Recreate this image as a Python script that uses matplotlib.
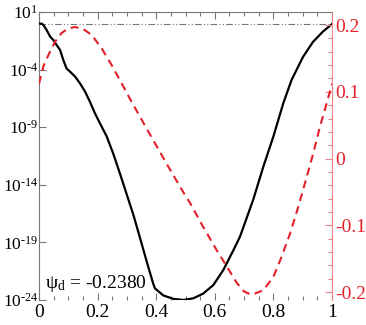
import numpy as np
import matplotlib
matplotlib.use("Agg")
import matplotlib.pyplot as plt
from matplotlib.ticker import MultipleLocator, FixedLocator, FuncFormatter

plt.rcParams['font.family'] = ['Liberation Serif', 'DejaVu Serif']
plt.rcParams['mathtext.fontset'] = 'custom'
plt.rcParams['mathtext.rm'] = 'Liberation Serif'
plt.rcParams['mathtext.it'] = 'Liberation Serif:italic'

# black curve: x and log10(value), left log axis
x_blk = [0.0, 0.01, 0.015, 0.026, 0.038, 0.049, 0.060, 0.072, 0.083, 0.094,
         0.106, 0.123, 0.14, 0.157, 0.174, 0.191, 0.208, 0.231, 0.253, 0.276,
         0.299, 0.322, 0.339, 0.367, 0.39, 0.396, 0.424, 0.458, 0.493, 0.527,
         0.56, 0.595, 0.629, 0.663, 0.686, 0.731, 0.766, 0.8, 0.834, 0.862,
         0.901, 0.935, 0.969, 1.0]
log_blk = [0.0, -0.02, -0.13, -0.56, -1.14, -1.43, -1.86, -2.3, -3.17, -3.9,
           -4.18, -4.6, -5.2, -5.9, -6.8, -7.8, -8.66, -9.8, -11.27, -13.0,
           -14.8, -16.6, -18.1, -20.6, -22.6, -23.0, -23.6, -23.9, -24.0, -23.85,
           -23.45, -22.7, -21.4, -19.7, -18.5, -15.3, -12.4, -9.8, -6.9, -4.9,
           -2.9, -1.6, -0.7, -0.05]

# red dashed curve: right linear axis
x_red = [0.0, 0.015, 0.032, 0.055, 0.077, 0.1, 0.123, 0.151, 0.18, 0.214,
         0.248, 0.288, 0.316, 0.379, 0.436, 0.492, 0.515, 0.56, 0.605, 0.629,
         0.675, 0.7, 0.726, 0.766, 0.8, 0.828, 0.857, 0.885, 0.914, 0.936, 0.959,
         0.982, 1.0]
v_red = [0.112, 0.138, 0.155, 0.175, 0.188, 0.195, 0.197, 0.194, 0.185, 0.165,
         0.14, 0.108, 0.085, 0.036, -0.008, -0.05, -0.066, -0.102, -0.136, -0.153,
         -0.186, -0.199, -0.204, -0.197, -0.177, -0.147, -0.112, -0.072, -0.027, 0.008, 0.048,
         0.083, 0.112]

ref_level = 1.0
label = r'ψ$_{\rm d}$ = -0.2380'
log_ticks = [1, -4, -9, -14, -19, -24]
x_ticks = [0, 0.2, 0.4, 0.6, 0.8, 1.0]
x_labels = ['0', '0.2', '0.4', '0.6', '0.8', '1']
r_ticks = [-0.2, -0.1, 0, 0.1, 0.2]
r_labels = ['-0.2', '-0.1', '0', '0.1', '0.2']

gray = '#777777'
red = '#e3202a'
pink = '#f08080'

fig = plt.figure(figsize=(3.66, 3.25), dpi=100)
ax = fig.add_axes([39/366, 1-300/325, 293/366, 288/325])
ax2 = ax.twinx()

ax.set_yscale('log')
ax.plot(x_blk, 10.0**np.array(log_blk), color='black', lw=1.6, zorder=3)
ax.axhline(ref_level, color=gray, lw=0.8, ls=(0, (6, 2, 1, 2, 1, 2)))
ax.set_xlim(0, 1)
ax.set_ylim(1e-24, 1e1)

ax2.plot(x_red, v_red, color=red, lw=1.5, ls=(0, (3.8, 2.6)))
ax2.set_ylim(-0.2117, 0.2195)

ax.yaxis.set_major_locator(FixedLocator([10.0**e for e in log_ticks]))
ax.yaxis.set_minor_locator(FixedLocator([]))
ax.yaxis.set_major_formatter(FuncFormatter(
    lambda v, p: r'$10^{\text{%d}}$' % int(round(np.log10(v)))))
ax.set_xticks(x_ticks)
ax.set_xticklabels(x_labels)
ax.xaxis.set_minor_locator(MultipleLocator(0.05))
ax2.set_yticks(r_ticks)
ax2.set_yticklabels(r_labels)
ax2.yaxis.set_minor_locator(MultipleLocator(0.02))

for a in (ax, ax2):
    for s in a.spines.values():
        s.set_visible(False)
ax.spines['left'].set_visible(True)
ax.spines['top'].set_visible(True)
ax.spines['left'].set_color(gray)
ax.spines['top'].set_color(gray)
ax2.spines['right'].set_visible(True)
ax2.spines['right'].set_color(pink)

ax.tick_params(axis='x', which='both', direction='in', top=True, bottom=True,
               color=gray, labelsize=14, pad=3)
ax.tick_params(axis='x', which='major', length=5, width=0.8)
ax.tick_params(axis='x', which='minor', length=3, width=0.8)
ax.tick_params(axis='y', which='major', direction='in', color=gray,
               length=5, width=0.8, labelsize=12.5, pad=0.5)
ax2.tick_params(axis='y', which='major', direction='in', color=pink,
                length=5, width=0.8, labelsize=14, labelcolor=red, pad=2)
ax2.tick_params(axis='y', which='minor', direction='in', color=pink,
                length=3, width=0.8)

ax.text(0.02, 0.04, label, transform=ax.transAxes, fontsize=14,
        va='baseline', ha='left')

fig.savefig('out.png', dpi=100)
